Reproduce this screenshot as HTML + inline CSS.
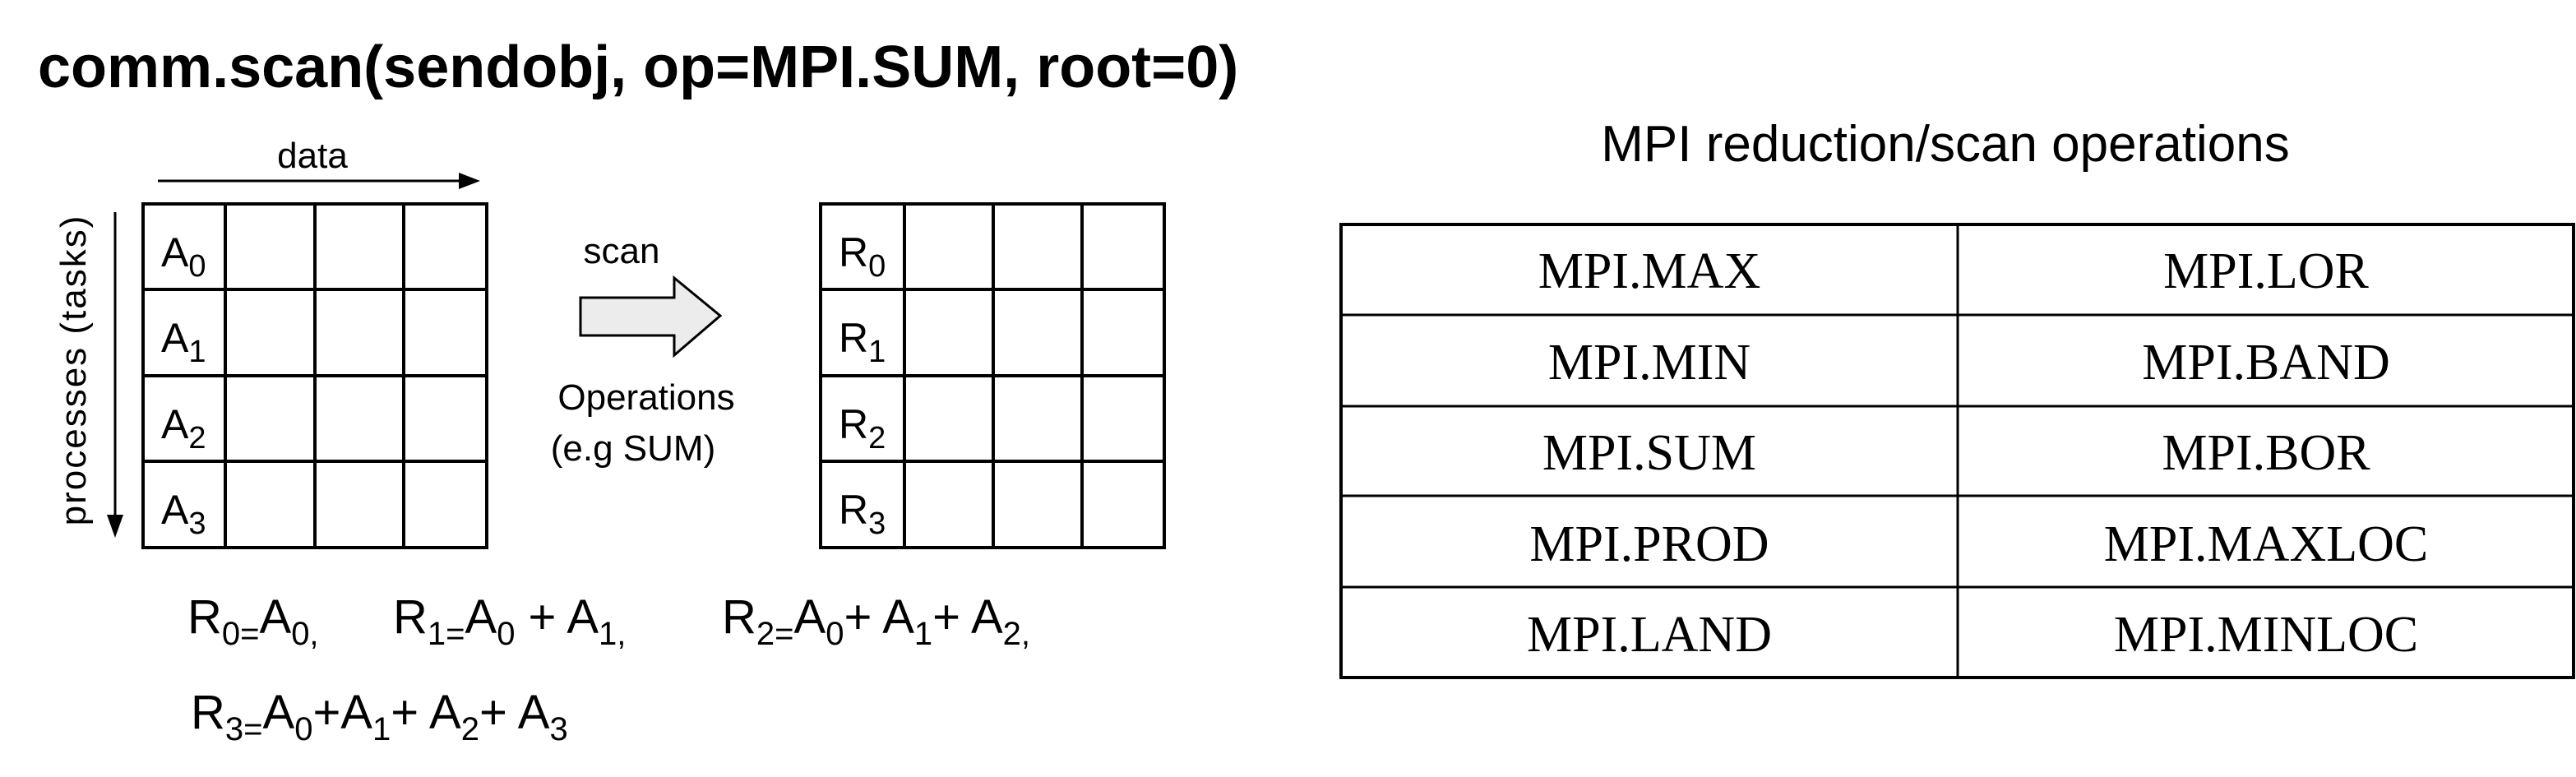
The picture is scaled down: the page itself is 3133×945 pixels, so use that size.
<!DOCTYPE html>
<html><head><meta charset="utf-8"><style>
html,body{margin:0;padding:0;background:#fff;}
svg{display:block;}
.cal{font-family:"Liberation Sans Narrow","Liberation Sans",sans-serif;}
.tnr{font-family:"Liberation Serif",serif;}
</style></head><body>
<svg width="3133" height="945" viewBox="0 0 3133 945" xmlns="http://www.w3.org/2000/svg">
<text x="46" y="106" class="cal" font-size="72" font-weight="bold">comm.scan(sendobj, op=MPI.SUM, root=0)</text>

<text x="380" y="204" class="cal" font-size="44" text-anchor="middle">data</text>
<line x1="192" y1="220" x2="562" y2="220" stroke="#000" stroke-width="3"/>
<polygon points="584,220 558,210 558,230" fill="#000"/>

<text transform="translate(104,450) rotate(-90)" class="cal" font-size="44" text-anchor="middle" letter-spacing="2">processes (tasks)</text>
<line x1="140" y1="258" x2="140" y2="628" stroke="#000" stroke-width="3"/>
<polygon points="140,654 130,626 150,626" fill="#000"/>

<g stroke="#000" stroke-width="4" fill="none">
<rect x="174" y="248" width="418" height="418"/>
<line x1="274" y1="248" x2="274" y2="666"/><line x1="383" y1="248" x2="383" y2="666"/><line x1="491" y1="248" x2="491" y2="666"/>
<line x1="174" y1="352" x2="592" y2="352"/><line x1="174" y1="457" x2="592" y2="457"/><line x1="174" y1="561" x2="592" y2="561"/>
</g>
<g class="cal" font-size="50">
<text x="196" y="324">A<tspan font-size="38" dy="12">0</tspan></text>
<text x="196" y="428">A<tspan font-size="38" dy="12">1</tspan></text>
<text x="196" y="533">A<tspan font-size="38" dy="12">2</tspan></text>
<text x="196" y="637">A<tspan font-size="38" dy="12">3</tspan></text>
</g>

<text x="756" y="320" class="cal" font-size="44" text-anchor="middle">scan</text>
<polygon points="706,362 820,362 820,338 876,384 820,432 820,408 706,408" fill="#ececec" stroke="#000" stroke-width="3"/>
<text x="786" y="498" class="cal" font-size="44" text-anchor="middle">Operations</text>
<text x="770" y="560" class="cal" font-size="44" text-anchor="middle">(e.g SUM)</text>

<g stroke="#000" stroke-width="4" fill="none">
<rect x="998" y="248" width="418" height="418"/>
<line x1="1100" y1="248" x2="1100" y2="666"/><line x1="1208" y1="248" x2="1208" y2="666"/><line x1="1316" y1="248" x2="1316" y2="666"/>
<line x1="998" y1="352" x2="1416" y2="352"/><line x1="998" y1="457" x2="1416" y2="457"/><line x1="998" y1="561" x2="1416" y2="561"/>
</g>
<g class="cal" font-size="50">
<text x="1020" y="324">R<tspan font-size="38" dy="12">0</tspan></text>
<text x="1020" y="428">R<tspan font-size="38" dy="12">1</tspan></text>
<text x="1020" y="533">R<tspan font-size="38" dy="12">2</tspan></text>
<text x="1020" y="637">R<tspan font-size="38" dy="12">3</tspan></text>
</g>

<g class="cal" font-size="58">
<text x="228" y="770">R<tspan font-size="40" dy="14">0=</tspan><tspan dy="-14">A</tspan><tspan font-size="40" dy="14">0,</tspan></text>
<text x="478" y="770">R<tspan font-size="40" dy="14">1=</tspan><tspan dy="-14">A</tspan><tspan font-size="40" dy="14">0</tspan><tspan dy="-14"> + A</tspan><tspan font-size="40" dy="14">1,</tspan></text>
<text x="878" y="770">R<tspan font-size="40" dy="14">2=</tspan><tspan dy="-14">A</tspan><tspan font-size="40" dy="14">0</tspan><tspan dy="-14">+ A</tspan><tspan font-size="40" dy="14">1</tspan><tspan dy="-14">+ A</tspan><tspan font-size="40" dy="14">2,</tspan></text>
<text x="232" y="886">R<tspan font-size="40" dy="14">3=</tspan><tspan dy="-14">A</tspan><tspan font-size="40" dy="14">0</tspan><tspan dy="-14">+A</tspan><tspan font-size="40" dy="14">1</tspan><tspan dy="-14">+ A</tspan><tspan font-size="40" dy="14">2</tspan><tspan dy="-14">+ A</tspan><tspan font-size="40" dy="14">3</tspan></text>
</g>

<text x="2366" y="196" class="cal" font-size="62" text-anchor="middle">MPI reduction/scan operations</text>
<g stroke="#000" fill="none">
<rect x="1631" y="273" width="1499" height="551" stroke-width="4"/>
<line x1="2381" y1="273" x2="2381" y2="824" stroke-width="3"/>
<line x1="1631" y1="383" x2="3130" y2="383" stroke-width="3"/>
<line x1="1631" y1="494" x2="3130" y2="494" stroke-width="3"/>
<line x1="1631" y1="603" x2="3130" y2="603" stroke-width="3"/>
<line x1="1631" y1="714" x2="3130" y2="714" stroke-width="3"/>
</g>
<g class="tnr" font-size="62" text-anchor="middle">
<text x="2006" y="350">MPI.MAX</text><text x="2756" y="350">MPI.LOR</text>
<text x="2006" y="461">MPI.MIN</text><text x="2756" y="461">MPI.BAND</text>
<text x="2006" y="571">MPI.SUM</text><text x="2756" y="571">MPI.BOR</text>
<text x="2006" y="682">MPI.PROD</text><text x="2756" y="682">MPI.MAXLOC</text>
<text x="2006" y="792">MPI.LAND</text><text x="2756" y="792">MPI.MINLOC</text>
</g>
</svg>
</body></html>
